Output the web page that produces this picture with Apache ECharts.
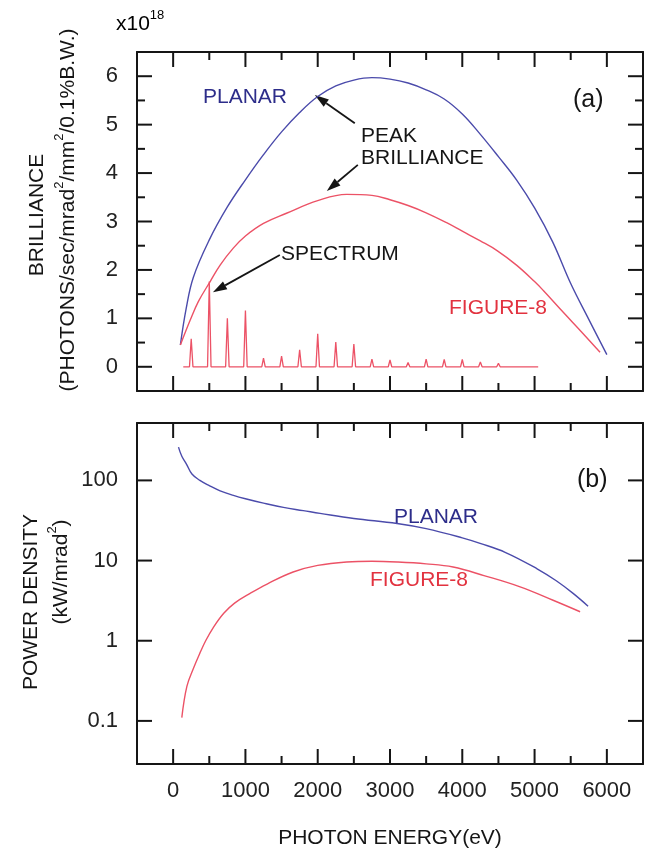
<!DOCTYPE html>
<html>
<head>
<meta charset="utf-8">
<script src="https://cdn.jsdelivr.net/npm/echarts@6/dist/echarts.min.js"></script>
<style>
  html, body { margin: 0; padding: 0; background: #fff; }
  #chart { width: 654px; height: 851px; }
</style>
</head>
<body>
<div id="chart"></div>
<script>
// axis extents and tick values
const energyRange = [-500, 6500];
const brillRange = [-0.5, 6.5];
const powerRange = [0.029, 520];
const energyMajor = [0, 1000, 2000, 3000, 4000, 5000, 6000];
const energyMinor = [500, 1500, 2500, 3500, 4500, 5500];
const brillMajor = [0, 1, 2, 3, 4, 5, 6];
const brillMinor = [0.5, 1.5, 2.5, 3.5, 4.5, 5.5];
const powerMajor = [0.1, 1, 10, 100];

// (a) peak brilliance, x10^18 [eV, value]
const planarBrill = [
  [100, 0.45], [180, 1.2], [280, 1.85], [500, 2.62], [750, 3.3], [1000, 3.86],
  [1250, 4.38], [1500, 4.85], [1750, 5.25], [2000, 5.58], [2250, 5.8], [2500, 5.92],
  [2750, 5.97], [3000, 5.94], [3250, 5.86], [3500, 5.72], [3750, 5.53], [4000, 5.22],
  [4250, 4.8], [4500, 4.34], [4750, 3.86], [5000, 3.28], [5250, 2.58], [5500, 1.72],
  [5750, 0.98], [6000, 0.25]
];
const fig8Brill = [
  [100, 0.45], [235, 0.96], [350, 1.35], [512, 1.76], [650, 2.1], [832, 2.45],
  [1000, 2.7], [1250, 2.96], [1568, 3.17], [2000, 3.43], [2400, 3.56], [2750, 3.54],
  [3000, 3.45], [3250, 3.33], [3500, 3.18], [3790, 2.97], [4000, 2.8], [4250, 2.6],
  [4481, 2.4], [4750, 2.1], [5000, 1.76], [5118, 1.58], [5400, 1.12], [5650, 0.72],
  [5906, 0.3]
];

// (a) figure-8 spectrum harmonics
const harmonicE = [250, 500, 750, 1000, 1250, 1500, 1750, 2000, 2250, 2500,
  2750, 3000, 3250, 3500, 3750, 4000, 4250, 4500, 4750, 5000];
const harmonicH = [0.58, 1.76, 1.0, 1.16, 0.18, 0.22, 0.35, 0.68, 0.51, 0.47,
  0.16, 0.14, 0.09, 0.16, 0.15, 0.15, 0.1, 0.07, 0.04, 0.03];
const spectrumStart = 140;
const spectrumEnd = 5050;

// (b) power density kW/mrad^2 [eV, value]
const planarPower = [
  [74, 260], [120, 200], [184, 160], [260, 120], [370, 100], [500, 86], [650, 74],
  [834, 65], [1000, 59], [1250, 52], [1526, 46], [1800, 42], [2033, 38.8],
  [2500, 33.5], [3098, 29], [3500, 25], [4000, 19.2], [4246, 16.4], [4600, 12.6],
  [5035, 7.9], [5300, 5.6], [5533, 3.9], [5740, 2.7]
];
const fig8Power = [
  [120, 0.11], [190, 0.27], [280, 0.45], [370, 0.7], [450, 1.0], [553, 1.45],
  [700, 2.2], [850, 2.95], [1065, 3.9], [1300, 5.1], [1660, 7.2], [2000, 8.7],
  [2400, 9.6], [2750, 9.8], [3100, 9.6], [3500, 9.1], [3873, 8.3], [4300, 6.5],
  [4800, 4.7], [5256, 3.2], [5630, 2.3]
];

// arrows in (a): [tail, tip]
const arrowPlanar = [[2513, 5.03], [1960, 5.61]];
const arrowFig8 = [[2555, 4.17], [2126, 3.63]];
const arrowSpectrum = [[1476, 2.31], [550, 1.54]];

const BLUE = '#4b4bab';
const BLUE_TXT = '#2d2d8a';
const RED = '#ec5266';
const RED_TXT = '#e2323f';
const INK = '#151515';
const FONT = '"Liberation Sans", Arial, sans-serif';

// build spectrum polyline from harmonics
let spectrum = [[spectrumStart, 0]];
for (let i = 0; i < harmonicE.length; i++) {
  spectrum.push([harmonicE[i] - 24, 0]);
  spectrum.push([harmonicE[i], harmonicH[i]]);
  spectrum.push([harmonicE[i] + 24, 0]);
}
spectrum.push([spectrumEnd, 0]);

function xAx(grid, pos, labels) {
  return {
    type: 'value', gridIndex: grid, position: pos, min: energyRange[0], max: energyRange[1],
    axisLine: { show: true, onZero: false, lineStyle: { color: INK, width: 2 } },
    axisTick: { show: false },
    axisLabel: labels ? { show: true, customValues: energyMajor, margin: 16,
      fontSize: 22, fontFamily: FONT, color: '#222', formatter: v => String(v) } : { show: false },
    splitLine: { show: false }
  };
}
function yAx(pos, labels) {
  return {
    type: 'value', gridIndex: 0, position: pos, min: brillRange[0], max: brillRange[1],
    axisLine: { show: true, onZero: false, lineStyle: { color: INK, width: 2 } },
    axisTick: { show: false },
    axisLabel: labels ? { show: true, customValues: brillMajor, margin: 19,
      fontSize: 22, fontFamily: FONT, color: '#222', formatter: v => String(v) } : { show: false },
    splitLine: { show: false }
  };
}
function logAx(pos, labels) {
  return {
    type: 'log', logBase: 10, gridIndex: 1, position: pos, min: powerRange[0], max: powerRange[1],
    axisLine: { show: true, onZero: false, lineStyle: { color: INK, width: 2 } },
    axisTick: { show: false },
    axisLabel: labels ? { show: true, margin: 19, showMinLabel: false, showMaxLabel: false,
      fontSize: 22, fontFamily: FONT, color: '#222',
      formatter: v => String(+Number(v).toPrecision(3)) } : { show: false },
    splitLine: { show: false }
  };
}

function txt(x, y, text, color, size, align) {
  return {
    type: 'text', x: x, y: y, silent: true,
    style: { text: text, fill: color, font: size + 'px ' + FONT,
      textAlign: align || 'left', textVerticalAlign: 'middle' }
  };
}
function vtxt(x, y, text, size, rich) {
  return {
    type: 'text', x: x, y: y, rotation: Math.PI / 2, silent: true,
    style: { text: text, fill: INK, font: size + 'px ' + FONT,
      textAlign: 'center', textVerticalAlign: 'middle', rich: rich }
  };
}

const supRich = {
  n: { fontSize: 21, fontFamily: FONT, color: INK, lineHeight: 26, verticalAlign: 'bottom' },
  s: { fontSize: 13, fontFamily: FONT, color: INK, lineHeight: 26, verticalAlign: 'top' }
};

const chart = echarts.init(document.getElementById('chart'));

chart.setOption({
  animation: false,
  grid: [
    { left: 137, top: 52, width: 506, height: 339 },
    { left: 137, top: 423, width: 506, height: 341 }
  ],
  xAxis: [
    xAx(0, 'bottom', false),
    xAx(0, 'top', false),
    xAx(1, 'bottom', true),
    xAx(1, 'top', false)
  ],
  yAxis: [
    yAx('left', true),
    yAx('right', false),
    logAx('left', true),
    logAx('right', false)
  ],
  series: [
    { type: 'line', name: 'PLANAR', xAxisIndex: 0, yAxisIndex: 0, data: planarBrill,
      smooth: 0.4, showSymbol: false, lineStyle: { color: BLUE, width: 1.4 } },
    { type: 'line', name: 'FIGURE-8', xAxisIndex: 0, yAxisIndex: 0, data: fig8Brill,
      smooth: 0.4, showSymbol: false, lineStyle: { color: RED, width: 1.4 } },
    { type: 'line', name: 'SPECTRUM', xAxisIndex: 0, yAxisIndex: 0, data: spectrum,
      showSymbol: false, lineStyle: { color: RED, width: 1.3 } },
    { type: 'line', name: 'PLANAR P', xAxisIndex: 2, yAxisIndex: 2, data: planarPower,
      smooth: 0.4, showSymbol: false, lineStyle: { color: BLUE, width: 1.4 } },
    { type: 'line', name: 'FIGURE-8 P', xAxisIndex: 2, yAxisIndex: 2, data: fig8Power,
      smooth: 0.4, showSymbol: false, lineStyle: { color: RED, width: 1.4 } }
  ]
});

// inward ticks as thin filled bars, placed through each panel's own axes
function bar(x, y, w, h) {
  return { type: 'rect', silent: true, shape: { x: x, y: y, width: w, height: h },
    style: { fill: INK } };
}
function panelTicks(finder, yRange, yMajor, yMinor) {
  const px = (x, y) => chart.convertToPixel(finder, [x, y]);
  const lo = px(energyRange[0], yRange[0]);
  const hi = px(energyRange[1], yRange[1]);
  const out = [];
  const xt = (vals, len) => vals.forEach(v => {
    const p = px(v, yRange[0]);
    out.push(bar(p[0] - 1, lo[1] - len, 2, len), bar(p[0] - 1, hi[1], 2, len));
  });
  const yt = (vals, len) => vals.forEach(v => {
    const p = px(energyRange[0], v);
    out.push(bar(lo[0], p[1] - 1, len, 2), bar(hi[0] - len, p[1] - 1, len, 2));
  });
  xt(energyMajor, 15); xt(energyMinor, 8);
  yt(yMajor, 15); yt(yMinor, 8);
  return out;
}

// arrows: positions come from the top panel's own axes
function arrow(pair) {
  const a = chart.convertToPixel({ xAxisIndex: 0, yAxisIndex: 0 }, pair[0]);
  const b = chart.convertToPixel({ xAxisIndex: 0, yAxisIndex: 0 }, pair[1]);
  const dx = b[0] - a[0], dy = b[1] - a[1];
  const d = Math.sqrt(dx * dx + dy * dy);
  const ux = dx / d, uy = dy / d;
  const hl = 14, hw = 4.5;
  const bx = b[0] - ux * hl, by = b[1] - uy * hl;
  return [
    { type: 'line', silent: true,
      shape: { x1: a[0], y1: a[1], x2: bx, y2: by },
      style: { stroke: INK, lineWidth: 1.8 } },
    { type: 'polygon', silent: true,
      shape: { points: [[b[0], b[1]], [bx - uy * hw, by + ux * hw], [bx + uy * hw, by - ux * hw]] },
      style: { fill: INK } }
  ];
}

const elements = [
  {
    type: 'text', x: 116, y: 22, silent: true,
    style: { text: '{n|x10}{s|18}', rich: supRich, textAlign: 'left', textVerticalAlign: 'middle' }
  },
  txt(203, 97, 'PLANAR', BLUE_TXT, 21),
  txt(573, 100, '(a)', INK, 25),
  {
    type: 'text', x: 361, y: 147, silent: true,
    style: { text: 'PEAK\nBRILLIANCE', fill: INK, font: '21px ' + FONT, lineHeight: 22,
      textAlign: 'left', textVerticalAlign: 'middle' }
  },
  txt(281, 254, 'SPECTRUM', INK, 21),
  txt(449, 308, 'FIGURE-8', RED_TXT, 21),
  txt(577, 480, '(b)', INK, 25),
  txt(394, 517, 'PLANAR', BLUE_TXT, 21),
  txt(370, 580, 'FIGURE-8', RED_TXT, 21),
  txt(390, 838, 'PHOTON ENERGY(eV)', INK, 21, 'center'),
  vtxt(37, 215, 'BRILLIANCE', 21),
  vtxt(66, 210, '{n|(PHOTONS/sec/mrad}{s|2}{n|/mm}{s|2}{n|/0.1%B.W.)}', 21, supRich),
  vtxt(31, 602, 'POWER DENSITY', 21),
  vtxt(59, 572, '{n|(kW/mrad}{s|2}{n|)}', 21, supRich)
].concat(
  panelTicks({ xAxisIndex: 0, yAxisIndex: 0 }, brillRange, brillMajor, brillMinor),
  panelTicks({ xAxisIndex: 2, yAxisIndex: 2 }, powerRange, powerMajor, []),
  arrow(arrowPlanar), arrow(arrowFig8), arrow(arrowSpectrum)
);

chart.setOption({ graphic: { elements: elements } });
</script>
</body>
</html>
